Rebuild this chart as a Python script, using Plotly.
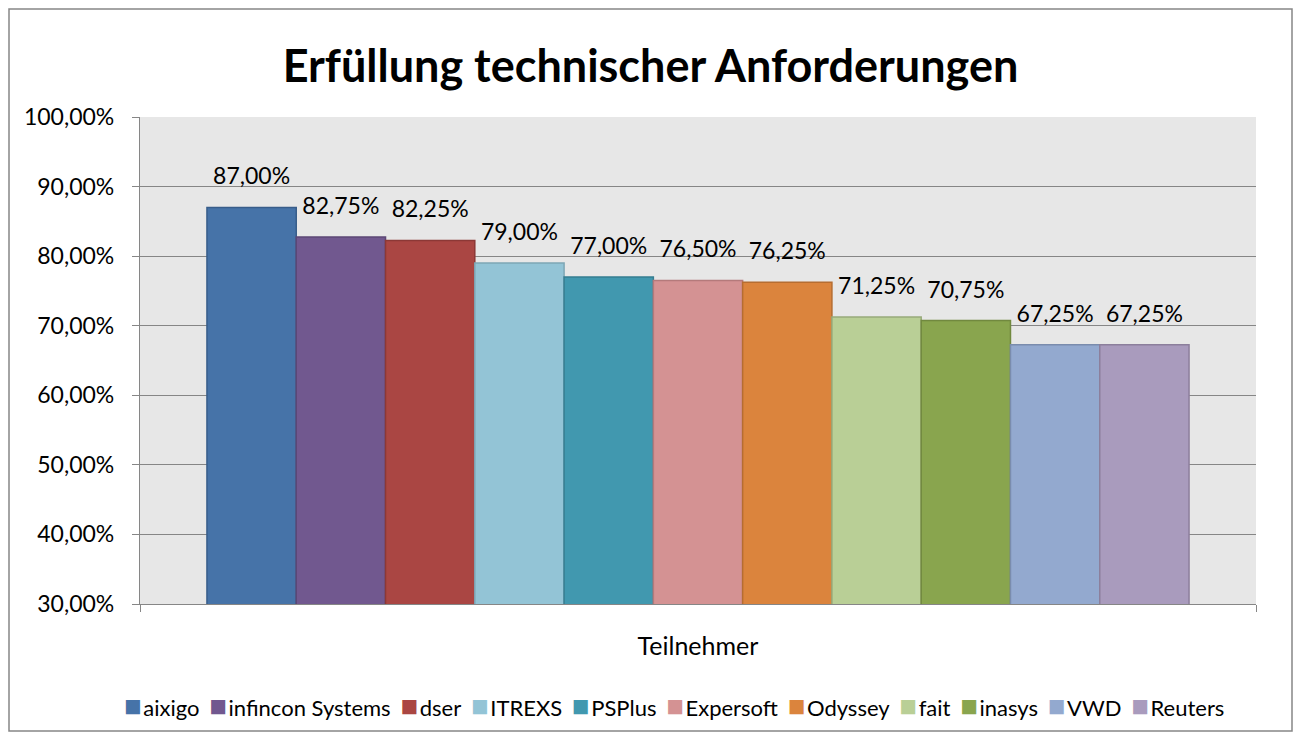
import plotly.graph_objects as go

# data
category = ["Teilnehmer"]
anbieter = ["aixigo", "infincon Systems", "dser", "ITREXS", "PSPlus", "Expersoft",
            "Odyssey", "fait", "inasys", "VWD", "Reuters"]
erfuellung = [0.87, 0.8275, 0.8225, 0.79, 0.77, 0.765, 0.7625, 0.7125, 0.7075, 0.6725, 0.6725]

fill_colors = ["#4673A8", "#71588F", "#AA4643", "#93C4D6", "#4198AF", "#D49293",
               "#DB843D", "#B9CF96", "#89A54E", "#93A9CF", "#A99BBD"]
line_colors = ["#385D8A", "#5C4776", "#8C3836", "#7EA6B5", "#357D91", "#B47A7B",
               "#B66D31", "#98AA7B", "#71893F", "#7A8CAD", "#8C7F9C"]

FONT = "Lato, 'Open Sans', sans-serif"
GRAY = "#868686"

# figure / margin sizes
W, H = 1285, 724
L, R, T, B = 132, 37, 109, 128
PW, PH = W - L - R, H - T - B

fig = go.Figure()
for name, val, fc, lc in zip(anbieter, erfuellung, fill_colors, line_colors):
    fig.add_trace(go.Bar(
        x=category,
        y=[val],
        name=name,
        marker=dict(color=fc, line=dict(color=lc, width=1.5)),
        showlegend=False,
    ))

# value labels as grouped text-scatter, so they sit a bit higher above the bars
for name, val in zip(anbieter, erfuellung):
    fig.add_trace(go.Scatter(
        x=category,
        y=[val],
        mode="markers+text",
        text=[f"{val * 100:.2f}%".replace(".", ",")],
        textposition="top center",
        textfont=dict(size=23, color="#000000"),
        marker=dict(size=26, opacity=0),
        cliponaxis=False,
        showlegend=False,
        hoverinfo="skip",
    ))

# legend row built as one text line with coloured squares
legend_text = "<span style='font-size:19px'>&nbsp;&nbsp;</span>".join(
    f"<span style='color:{c};font-size:29px'>■</span>"
    f"<span style='font-size:7px'>&nbsp;</span>{n}"
    for n, c in zip(anbieter, fill_colors)
)
fig.add_annotation(
    text=legend_text,
    xref="paper", yref="paper",
    x=(674 - 140) / PW, y=-100 / PH,
    xanchor="center", yanchor="middle",
    showarrow=False,
    font=dict(size=22, family=FONT, color="#000000"),
)

fig.update_layout(
    width=W,
    height=H,
    separators=",.",
    barmode="group",
    bargap=0.12,
    bargroupgap=0,
    scattermode="group",
    scattergap=0.12,
    plot_bgcolor="#E7E7E7",
    paper_bgcolor="#FFFFFF",
    font=dict(family=FONT, size=23, color="#000000"),
    title=dict(
        text="<b>Erfüllung technischer Anforderungen</b>",
        x=0.5, xanchor="center",
        y=0.92, yanchor="middle",
        font=dict(size=45, family=FONT),
    ),
    margin=dict(l=L, r=R, t=T, b=B),
    showlegend=False,
    shapes=[dict(type="rect", xref="paper", yref="paper",
                 x0=(-L + 1) / PW, x1=1 + (R - 1) / PW,
                 y0=(-B + 1) / PH, y1=1 + (T - 1) / PH,
                 line=dict(color=GRAY, width=1.5))],
)
fig.update_yaxes(
    range=[0.3, 1.0],
    dtick=0.1,
    tickformat=".2%",
    showgrid=True,
    gridcolor=GRAY,
    gridwidth=1.2,
    showline=True,
    linecolor=GRAY,
    linewidth=1.2,
    ticks="outside",
    ticklen=7,
    tickcolor=GRAY,
    ticklabelstandoff=13,
    zeroline=False,
    tickfont=dict(size=23),
)
fig.update_xaxes(
    showline=True,
    linecolor=GRAY,
    linewidth=1.2,
    ticks="outside",
    tickson="boundaries",
    ticklen=7,
    tickcolor=GRAY,
    ticklabelstandoff=20,
    tickfont=dict(size=25),
)

fig.write_html("out.html")
